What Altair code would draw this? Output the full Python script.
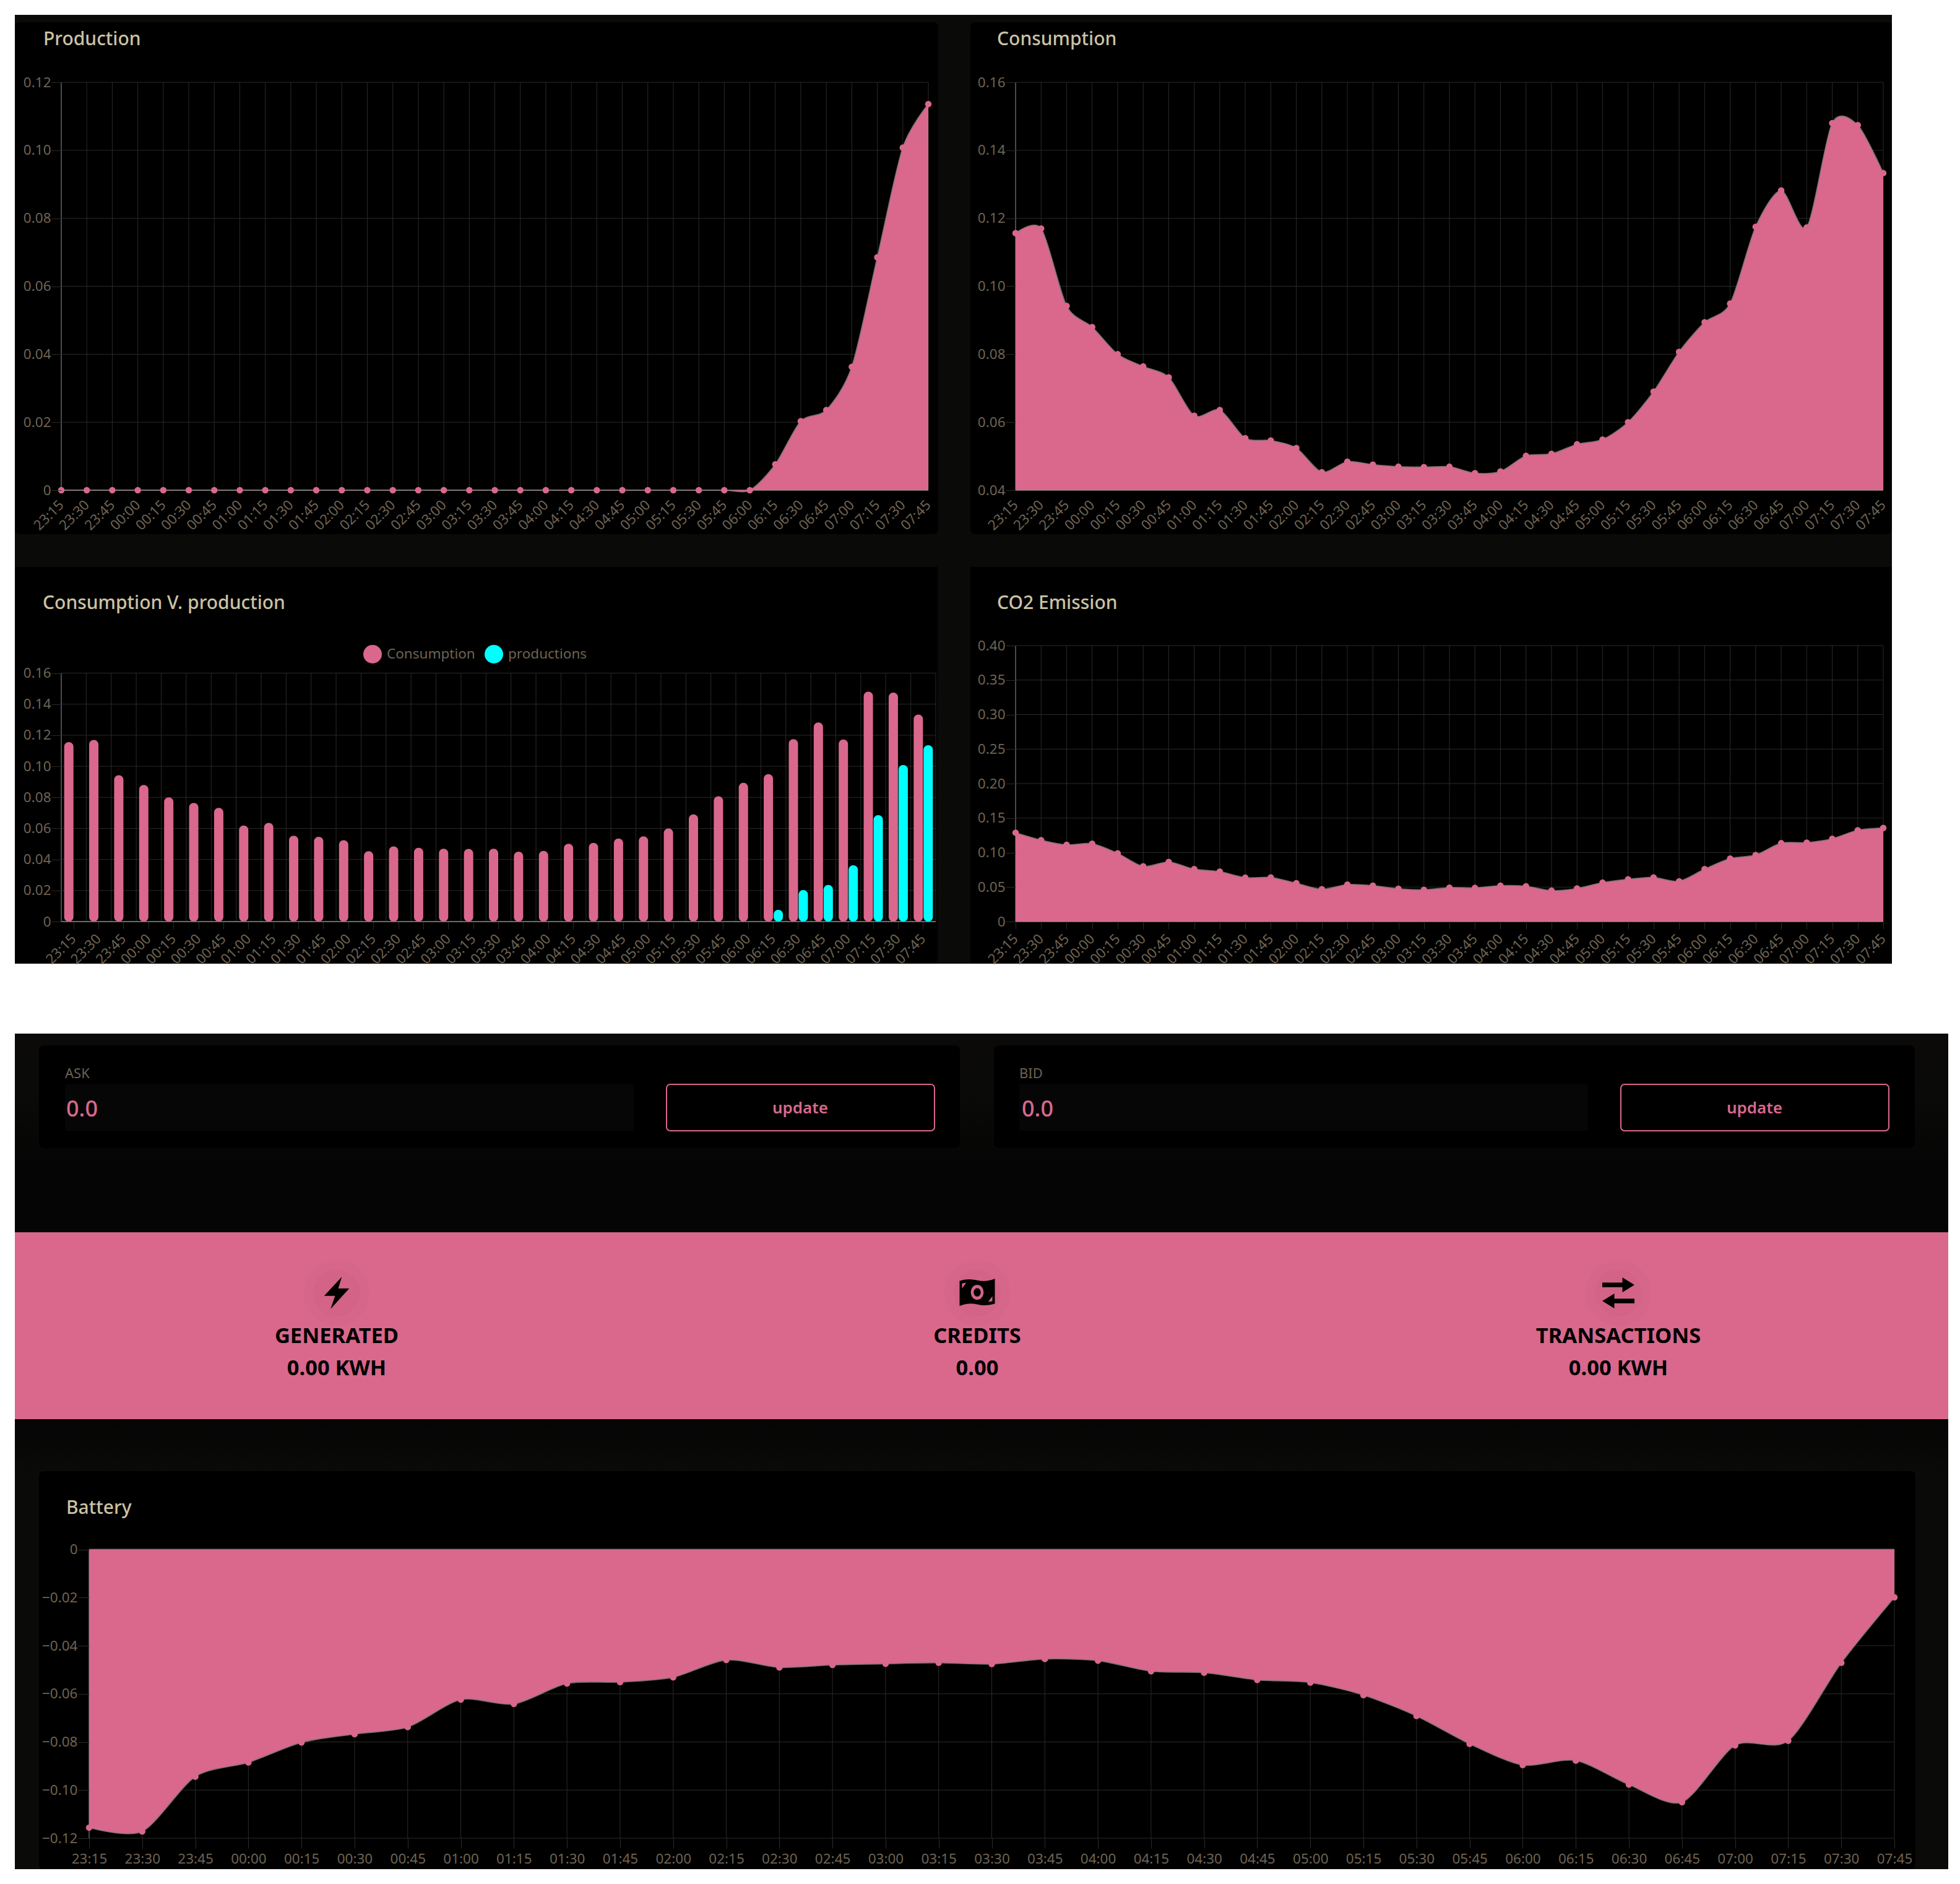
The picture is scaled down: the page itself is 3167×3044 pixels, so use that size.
import altair as alt
import pandas as pd

# ---------- data ----------
times = ["23:15","23:30","23:45","00:00","00:15","00:30","00:45","01:00","01:15","01:30","01:45","02:00",
         "02:15","02:30","02:45","03:00","03:15","03:30","03:45","04:00","04:15","04:30","04:45","05:00",
         "05:15","05:30","05:45","06:00","06:15","06:30","06:45","07:00","07:15","07:30","07:45"]
production = [0]*28 + [0.0076,0.0203,0.0236,0.0363,0.0685,0.1008,0.1136]
consumption = [0.1156,0.1170,0.0942,0.0880,0.0800,0.0764,0.0732,0.0619,0.0636,0.0553,0.0546,0.0524,
               0.0453,0.0484,0.0475,0.0469,0.0468,0.0469,0.0450,0.0455,0.0501,0.0507,0.0535,0.0549,
               0.0600,0.0690,0.0807,0.0894,0.0949,0.1175,0.1282,0.1173,0.1480,0.1474,0.1333]
co2 = [0.1288,0.1180,0.1112,0.1128,0.0988,0.0800,0.0864,0.0760,0.0724,0.0636,0.0640,0.0556,
       0.0468,0.0536,0.0520,0.0476,0.0460,0.0492,0.0488,0.0520,0.0512,0.0448,0.0480,0.0564,
       0.0612,0.0640,0.0584,0.0760,0.0912,0.0964,0.1136,0.1144,0.1200,0.1324,0.1356]
battery = [-0.1156,-0.1172,-0.0944,-0.0885,-0.0802,-0.0767,-0.0738,-0.0624,-0.0642,-0.0557,-0.0551,-0.0531,
           -0.0459,-0.0490,-0.0480,-0.0475,-0.0471,-0.0476,-0.0455,-0.0462,-0.0506,-0.0512,-0.0542,-0.0553,
           -0.0605,-0.0692,-0.0808,-0.0896,-0.0877,-0.0977,-0.1050,-0.0814,-0.0795,-0.0471,-0.0199]
ticks_prod = [0,0.02,0.04,0.06,0.08,0.10,0.12]
ticks_cons = [0.04,0.06,0.08,0.10,0.12,0.14,0.16]
ticks_bars = [0,0.02,0.04,0.06,0.08,0.10,0.12,0.14,0.16]
ticks_co2 = [0,0.05,0.10,0.15,0.20,0.25,0.30,0.35,0.40]
ticks_batt = [-0.12,-0.10,-0.08,-0.06,-0.04,-0.02,0]
series_names = ["Consumption","productions"]

# ---------- styles ----------
PINK = "#d9688c"
CYAN = "#00ffff"
BROWN = "#6e6353"
TITLE = "#cbc2a4"
GRID = "#2a2a2a"
FRAME = "#0a0a08"
FONT = "Noto Sans"
W, H = 3145, 3020
O = 8  # page margin
TENSION = 0.2

one = pd.DataFrame({"k": [0]})

def box(x0, y0, x1, y1, fill, radius=0, stroke=None, sw=0, opacity=1):
    kw = dict(fill=fill, cornerRadius=radius, opacity=opacity)
    if stroke:
        kw.update(stroke=stroke, strokeWidth=sw)
    return alt.Chart(one).mark_rect(**kw).encode(
        x=alt.value(x0 - O), x2=alt.value(x1 - O), y=alt.value(y0 - O), y2=alt.value(y1 - O))

def vgrad(stops):
    return alt.LinearGradient(gradient="linear", x1=0, x2=0, y1=0, y2=1,
                              stops=[alt.GradientStop(offset=o, color=c) for o, c in stops])

def label(x, y, text, size, color, weight=400, align="left"):
    return alt.Chart(one).mark_text(font=FONT, fontSize=size, fontWeight=weight, color=color,
                                    align=align, baseline="middle").encode(
        x=alt.value(x - O), y=alt.value(y - O), text=alt.value(text))

def icon(x, y, path, extent):
    return alt.Chart(one).mark_point(shape=path, size=extent * extent, filled=True, fill="#000000",
                                     stroke=None, opacity=1).encode(x=alt.value(x - O), y=alt.value(y - O))

def disc(x, y, d, color, opacity):
    return alt.Chart(one).mark_point(shape="circle", size=3.1416 * d * d / 4, filled=True, fill=color,
                                     stroke=None, opacity=opacity).encode(x=alt.value(x - O), y=alt.value(y - O))

def y_label_expr():
    return "datum.value === 0 ? '0' : format(datum.value, '.2f')"

def axes(ticks, left, bottom, xpad, ytick, xtick, angle):
    ax = alt.Axis(title=None, orient="bottom", offset=bottom - O - H, domain=False, grid=False,
                  labelAngle=angle, labelAlign="right" if angle else "center",
                  labelBaseline="middle" if angle else "top", labelFont=FONT, labelFontSize=22.5,
                  labelColor=BROWN, labelOverlap=False, labelPadding=xpad, tickColor=GRID, tickSize=xtick,
                  labelFlush=False, zindex=1, ticks=xtick > 0)
    ay = alt.Axis(title=None, orient="left", offset=-(left - O), domain=False, grid=False,
                  values=ticks, labelExpr=y_label_expr(), labelFont=FONT, labelFontSize=22.5,
                  labelColor=BROWN, labelOverlap=False, labelPadding=1, tickColor=GRID, tickSize=ytick,
                  labelBound=False, zindex=1)
    return ax, ay

def base_layers(xs, ys, ax, ay, left, right, top, bottom, ticks, band=False):
    """grid lines, placed through the panel's own scales"""
    tdf = pd.DataFrame({"t": times})
    vdf = pd.DataFrame({"v": ticks})
    if band:
        g1 = alt.Chart(tdf).mark_rule(color=GRID, strokeWidth=1).encode(
            x=alt.X("t:O", scale=xs, axis=ax, bandPosition=0), y=alt.value(top - O), y2=alt.value(bottom - O))
        g2 = alt.Chart(tdf.tail(1)).mark_rule(color=GRID, strokeWidth=1).encode(
            x=alt.X("t:O", scale=xs, axis=ax, bandPosition=1), y=alt.value(top - O), y2=alt.value(bottom - O))
        vert = [g1, g2]
    else:
        vert = [alt.Chart(tdf).mark_rule(color=GRID, strokeWidth=1).encode(
            x=alt.X("t:O", scale=xs, axis=ax), y=alt.value(top - O), y2=alt.value(bottom - O))]
    horiz = alt.Chart(vdf).mark_rule(color=GRID, strokeWidth=1).encode(
        y=alt.Y("v:Q", scale=ys, axis=ay), x=alt.value(left - O), x2=alt.value(right - O))
    return vert + [horiz]

def area_panel(values, ticks, left, right, top, bottom, base, xpad=14, ytick=16, xtick=0, angle=-45):
    df = pd.DataFrame({"t": times, "v": values})
    xs = alt.Scale(type="point", domain=times, range=[left - O, right - O], padding=0)
    ys = alt.Scale(domain=[min(ticks), max(ticks)], range=[bottom - O, top - O], nice=False, zero=False)
    ax, ay = axes(ticks, left, bottom, xpad, ytick, xtick, angle)
    X = alt.X("t:O", scale=xs, axis=ax)
    Y = alt.Y("v:Q", scale=ys, axis=ay)
    parts = base_layers(xs, ys, ax, ay, left, right, top, bottom, ticks)
    parts.append(alt.Chart(pd.DataFrame({"v": [base]})).mark_rule(color="#6a6a6a", strokeWidth=2).encode(
        y=Y, x=alt.value(left - O), x2=alt.value(right - O)))
    parts.append(alt.Chart(one).mark_rule(color="#5c5c5c", strokeWidth=1.5).encode(
        x=alt.value(left - O), y=alt.value(top - O), y2=alt.value(bottom - O)))
    parts.append(alt.Chart(df).mark_area(color=PINK, interpolate="cardinal", tension=TENSION, opacity=1).encode(
        x=X, y=Y, y2=alt.Y2(datum=base)))
    parts.append(alt.Chart(df).mark_line(color="#8d7f84", strokeWidth=2, interpolate="cardinal", tension=TENSION,
                                         opacity=0.75).encode(x=X, y=Y))
    parts.append(alt.Chart(df).mark_point(filled=True, color=PINK, size=110, opacity=1).encode(x=X, y=Y))
    return alt.layer(*parts)

def bar_panel(left, right, top, bottom):
    xs = alt.Scale(type="band", domain=times, range=[left - O, right - O], paddingInner=0, paddingOuter=0)
    ys = alt.Scale(domain=[0, 0.16], range=[bottom - O, top - O], nice=False, zero=False)
    ax, ay = axes(ticks_bars, left, bottom, 12, 16, 12, -45)
    cs = alt.Scale(domain=series_names, range=[PINK, CYAN])
    legend = alt.Legend(orient="none", legendX=587 - O, legendY=1042 - O, direction="horizontal", title=None,
                        symbolType="circle", symbolSize=900, symbolStrokeWidth=0, symbolOpacity=1,
                        labelFont=FONT, labelFontSize=22.5, labelColor=BROWN, labelOffset=8, columnPadding=15,
                        columns=2)
    d1 = pd.DataFrame({"t": times, "v": consumption, "s": series_names[0]})
    d2 = pd.DataFrame({"t": times, "v": production, "s": series_names[1]})
    X = alt.X("t:O", scale=xs, axis=ax)
    Y = alt.Y("v:Q", scale=ys, axis=ay, stack=None)
    parts = base_layers(xs, ys, ax, ay, left, right, top, bottom, ticks_bars, band=True)
    parts.append(alt.Chart(pd.DataFrame({"v": [0]})).mark_rule(color="#6a6a6a", strokeWidth=2).encode(
        y=Y, x=alt.value(left - O), x2=alt.value(right - O)))
    parts.append(alt.Chart(one).mark_rule(color="#5c5c5c", strokeWidth=1.5).encode(
        x=alt.value(left - O), y=alt.value(top - O), y2=alt.value(bottom - O)))
    parts.append(alt.Chart(d1).mark_bar(size=15, xOffset=-8, cornerRadius=7.5, opacity=1).encode(
        x=X, y=Y, color=alt.Color("s:N", scale=cs, legend=legend)))
    parts.append(alt.Chart(d2[d2.v > 0]).mark_bar(size=15, xOffset=8, cornerRadius=7.5, opacity=1).encode(
        x=X, y=Y, color=alt.Color("s:N", scale=cs, legend=legend)))
    return alt.layer(*parts)

# ---------- static page pieces ----------
BOLT = "M0.32,-1 L-0.78,0.18 L-0.1,0.18 L-0.38,1 L0.78,-0.28 L0.1,-0.28 Z"
BILL = ("M-1,-0.65 Q-0.5,-0.8 0,-0.68 Q0.5,-0.56 1,-0.77 L1,0.65 Q0.5,0.8 0,0.68 Q-0.5,0.56 -1,0.77 Z "
        "M0,-0.42 C-0.24,-0.42 -0.36,-0.2 -0.36,0 C-0.36,0.2 -0.24,0.42 0,0.42 C0.24,0.42 0.36,0.2 0.36,0 C0.36,-0.2 0.24,-0.42 0,-0.42 Z "
        "M0,-0.24 C0.12,-0.24 0.2,-0.12 0.2,0 C0.2,0.12 0.12,0.24 0,0.24 C-0.12,0.24 -0.2,0.12 -0.2,0 C-0.2,-0.12 -0.12,-0.24 0,-0.24 Z "
        "M-0.86,-0.5 L-0.86,-0.22 L-0.62,-0.54 Z M0.86,0.5 L0.86,0.22 L0.62,0.54 Z")
SWAP = ("M-1,-0.64 L0.25,-0.64 L0.25,-0.96 L1,-0.5 L0.25,-0.04 L0.25,-0.36 L-1,-0.36 Z "
        "M1,0.64 L-0.25,0.64 L-0.25,0.96 L-1,0.5 L-0.25,0.04 L-0.25,0.36 L1,0.36 Z")

bg = [
    box(24, 24, 3057, 1557, FRAME),
    box(24, 36, 1516, 863, "#000000", radius=8),
    box(1568, 36, 3057, 863, "#000000", radius=8),
    box(24, 916, 1515, 1557, "#000000"),
    box(1568, 916, 3057, 1557, "#000000"),
    box(24, 1670, 3148, 1991, vgrad([(0, "#0b0a08"), (0.3, "#0a0a08"), (0.65, "#050505"), (1, "#050505")])),
    box(24, 2293, 3148, 3020, vgrad([(0, "#050505"), (0.12, "#0a0a08"), (1, "#0a0a08")])),
    box(63, 1689, 1551, 1855, "#000000", radius=8),
    box(1606, 1689, 3094, 1855, "#000000", radius=8),
    box(105, 1752, 1024, 1827, "#060606"),
    box(1647, 1752, 2565, 1827, "#060606"),
    box(1077, 1752, 1510, 1827, "#000000", radius=6, stroke=PINK, sw=2),
    box(2619, 1752, 3052, 1827, "#000000", radius=6, stroke=PINK, sw=2),
    box(24, 1991, 3148, 2293, PINK),
    box(63, 2377, 3095, 3020, "#000000", radius=8),
]
texts = [
    label(70, 64, "Production", 30, TITLE, 500),
    label(1611, 64, "Consumption", 30, TITLE, 500),
    label(69, 975, "Consumption V. production", 30, TITLE, 500),
    label(1611, 975, "CO2 Emission", 30, TITLE, 500),
    label(107, 2437, "Battery", 30, TITLE, 500),
    label(105, 1735, "ASK", 22, BROWN),
    label(1647, 1735, "BID", 22, BROWN),
    label(107, 1793, "0.0", 36, PINK, 500),
    label(1651, 1793, "0.0", 36, PINK, 500),
    label(1293, 1791, "update", 26, PINK, 600, "center"),
    label(2835, 1791, "update", 26, PINK, 600, "center"),
    label(544, 2160, "GENERATED", 34.5, "#000000", 700, "center"),
    label(544, 2212, "0.00 KWH", 34.5, "#000000", 700, "center"),
    label(1579, 2160, "CREDITS", 34.5, "#000000", 700, "center"),
    label(1579, 2212, "0.00", 34.5, "#000000", 700, "center"),
    label(2615, 2160, "TRANSACTIONS", 34.5, "#000000", 700, "center"),
    label(2615, 2212, "0.00 KWH", 34.5, "#000000", 700, "center"),
]
icons = []
for cx in (544, 1579, 2615):
    icons += [disc(cx, 2089, 120, "#000000", 0.012), disc(cx, 2089, 86, "#000000", 0.012)]
icons += [icon(544, 2089, BOLT, 52), icon(1579, 2088, BILL, 57), icon(2615, 2089, SWAP, 52)]

panels = [
    area_panel(production, ticks_prod, 99, 1500, 133, 792, 0, xpad=20),
    area_panel(consumption, ticks_cons, 1641, 3043, 133, 792, 0.04, xpad=20),
    bar_panel(99, 1512, 1087.5, 1489),
    area_panel(co2, ticks_co2, 1641, 3043, 1043, 1489, 0, xpad=12, xtick=12),
    area_panel(battery, ticks_batt, 144, 3061, 2503.5, 2970, 0, xpad=6, ytick=18, xtick=16, angle=0),
]

chart = alt.layer(alt.layer(*bg), alt.layer(*texts), alt.layer(*icons), *panels).resolve_scale(
    x="independent", y="independent"
).properties(width=W, height=H, background="white", padding=0).configure_view(stroke=None)

chart.save("out.html", embed_options={"renderer": "svg", "actions": False})
